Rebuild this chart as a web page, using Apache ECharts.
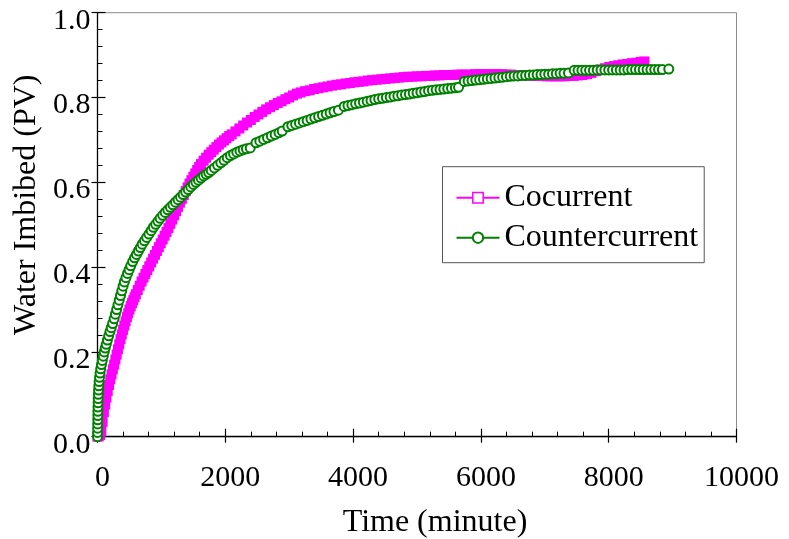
<!DOCTYPE html>
<html>
<head>
<meta charset="utf-8">
<script src="https://cdn.jsdelivr.net/npm/echarts@6/dist/echarts.min.js"></script>
<style>
  html, body { margin: 0; padding: 0; background: #fff; }
  #chart { width: 789px; height: 539px; }
</style>
</head>
<body>
<div id="chart"></div>
<script>
// Imbibition curves: [time (minute), water imbibed (PV)]
const cocurrent = [
  [0,0],[20,0.001],[40,0.004],[60,0.014],[80,0.035],[100,0.058],[120,0.076],[140,0.092],[160,0.108],[180,0.122],
  [200,0.135],[220,0.147],[240,0.159],[260,0.17],[280,0.182],[300,0.194],[320,0.206],[340,0.218],[360,0.23],[380,0.241],
  [400,0.252],[420,0.262],[440,0.272],[460,0.282],[480,0.291],[500,0.3],[520,0.308],[540,0.315],[560,0.322],[580,0.329],
  [600,0.336],[630,0.346],[660,0.356],[690,0.366],[720,0.375],[750,0.384],[780,0.393],[810,0.402],[840,0.411],[870,0.42],
  [900,0.429],[930,0.438],[960,0.447],[990,0.456],[1020,0.465],[1050,0.474],[1080,0.483],[1110,0.492],[1140,0.502],[1170,0.512],
  [1200,0.522],[1230,0.532],[1260,0.542],[1290,0.552],[1320,0.561],[1350,0.57],[1380,0.579],[1410,0.588],[1440,0.597],[1470,0.605],
  [1500,0.613],[1530,0.621],[1560,0.629],[1590,0.636],[1620,0.643],[1660,0.651],[1700,0.658],[1740,0.665],[1780,0.671],[1820,0.677],
  [1860,0.683],[1900,0.689],[1940,0.694],[1980,0.699],[2020,0.704],[2060,0.709],[2100,0.713],[2160,0.72],[2220,0.727],[2280,0.734],
  [2340,0.741],[2400,0.747],[2460,0.754],[2520,0.76],[2580,0.766],[2640,0.772],[2700,0.777],[2760,0.782],[2820,0.787],[2880,0.791],
  [2940,0.796],[3000,0.8],[3060,0.805],[3120,0.809],[3180,0.812],[3250,0.815],[3320,0.817],[3390,0.82],[3460,0.822],[3530,0.824],
  [3600,0.826],[3670,0.828],[3740,0.83],[3810,0.831],[3880,0.833],[3950,0.834],[4020,0.836],[4090,0.837],[4160,0.838],[4230,0.84],
  [4300,0.841],[4370,0.842],[4440,0.843],[4510,0.844],[4580,0.845],[4650,0.846],[4720,0.847],[4790,0.848],[4860,0.849],[4930,0.849],
  [5000,0.85],[5070,0.85],[5140,0.851],[5210,0.851],[5280,0.852],[5350,0.852],[5420,0.853],[5490,0.853],[5560,0.853],[5630,0.854],
  [5700,0.854],[5770,0.854],[5840,0.854],[5910,0.855],[5980,0.855],[6050,0.855],[6120,0.855],[6190,0.855],[6260,0.855],[6330,0.855],
  [6400,0.854],[6470,0.854],[6540,0.853],[6610,0.853],[6680,0.852],[6750,0.852],[6820,0.851],[6890,0.851],[6960,0.851],[7030,0.85],
  [7100,0.85],[7170,0.85],[7240,0.85],[7310,0.85],[7380,0.851],[7450,0.851],[7520,0.852],[7590,0.853],[7660,0.855],[7730,0.858],
  [7800,0.862],[7870,0.866],[7940,0.869],[8010,0.872],[8080,0.874],[8150,0.876],[8220,0.878],[8290,0.879],[8360,0.881],[8430,0.882],
  [8500,0.884],[8560,0.885]
];

const countercurrent = [
  [0,0],[1,0.01],[2,0.02],[3,0.03],[4,0.04],[5,0.05],[6,0.06],[7,0.07],[9,0.08],[11,0.09],
  [13,0.1],[16,0.11],[20,0.12],[25,0.13],[32,0.14],[40,0.15],[50,0.16],[62,0.17],[75,0.18],[90,0.19],
  [105,0.2],[120,0.209],[137,0.218],[155,0.228],[175,0.238],[195,0.248],[215,0.257],[237,0.267],[260,0.278],[280,0.289],
  [300,0.3],[320,0.311],[340,0.322],[360,0.333],[380,0.344],[400,0.355],[420,0.365],[445,0.375],[470,0.385],[495,0.394],
  [520,0.403],[550,0.413],[580,0.422],[610,0.43],[640,0.438],[670,0.446],[700,0.454],[735,0.462],[770,0.47],[805,0.478],
  [840,0.486],[875,0.494],[910,0.501],[945,0.508],[980,0.515],[1020,0.522],[1060,0.529],[1100,0.535],[1140,0.541],[1180,0.547],
  [1220,0.553],[1260,0.559],[1300,0.565],[1340,0.571],[1380,0.577],[1420,0.583],[1460,0.589],[1500,0.595],[1540,0.6],[1580,0.605],
  [1620,0.61],[1660,0.615],[1700,0.619],[1740,0.623],[1780,0.628],[1830,0.634],[1880,0.64],[1930,0.646],[1980,0.652],[2030,0.658],
  [2080,0.663],[2130,0.667],[2180,0.671],[2230,0.674],[2280,0.677],[2330,0.679],[2390,0.681],
  [2480,0.693],[2540,0.697],[2600,0.701],[2660,0.705],[2720,0.709],[2780,0.713],[2840,0.717],[2890,0.721],
  [2980,0.731],[3040,0.734],[3100,0.737],[3160,0.74],[3220,0.743],[3280,0.746],[3340,0.749],[3400,0.752],[3460,0.755],[3520,0.758],
  [3580,0.761],[3640,0.764],[3700,0.767],[3770,0.77],
  [3860,0.779],[3920,0.781],[3980,0.783],[4040,0.785],[4100,0.787],[4160,0.789],[4220,0.791],[4280,0.793],[4340,0.795],[4400,0.797],
  [4460,0.798],[4520,0.8],[4580,0.801],[4640,0.803],[4700,0.804],[4760,0.806],[4820,0.807],[4880,0.808],[4940,0.81],[5000,0.811],
  [5060,0.813],[5120,0.814],[5180,0.816],[5240,0.817],[5300,0.818],[5360,0.819],[5420,0.82],[5480,0.821],[5540,0.822],[5600,0.823],
  [5650,0.824],
  [5740,0.838],[5800,0.839],[5860,0.84],[5920,0.841],[5980,0.842],[6040,0.843],[6100,0.844],[6160,0.845],[6220,0.846],[6280,0.847],
  [6340,0.848],[6400,0.849],[6460,0.85],[6520,0.851],[6580,0.851],[6640,0.852],[6700,0.852],[6760,0.853],[6820,0.853],[6880,0.854],
  [6940,0.854],[7000,0.855],[7060,0.855],[7120,0.856],[7180,0.856],[7240,0.857],[7300,0.857],[7370,0.858],
  [7460,0.864],[7520,0.864],[7580,0.864],[7640,0.864],[7700,0.864],[7760,0.864],[7820,0.865],[7880,0.865],[7940,0.865],[8000,0.865],
  [8060,0.865],[8120,0.865],[8180,0.865],[8240,0.865],[8300,0.866],[8360,0.866],[8420,0.866],[8480,0.866],[8540,0.866],[8600,0.866],
  [8660,0.866],[8720,0.866],[8780,0.866],[8840,0.866],
  [8940,0.867]
];

const timeRange = [0, 10000];
const timeStep = 2000;
const waterRange = [0, 1];
const waterStep = 0.2;

const FONT = 'Liberation Serif';
const BLACK = '#000';

const chart = echarts.init(document.getElementById('chart'), null, { renderer: 'canvas' });

const baseX = {
  type: 'value', position: 'bottom', gridIndex: 0,
  min: timeRange[0], max: timeRange[1], interval: timeStep,
  splitLine: { show: false }
};
const baseY = {
  type: 'value', position: 'left', gridIndex: 0,
  min: waterRange[0], max: waterRange[1], interval: waterStep,
  splitLine: { show: false }
};

chart.setOption({
  animation: false,
  backgroundColor: '#fff',
  grid: {
    left: 97.5, right: 52.5, top: 12.7, bottom: 102.3,
    containLabel: false, outerBoundsMode: 'none',
    show: true, borderColor: '#8c8c8c', borderWidth: 1, backgroundColor: 'transparent'
  },
  legend: {
    orient: 'vertical',
    left: 442.5, top: 166.7,
    padding: [15, 6, 9, 13],
    itemWidth: 43, itemHeight: 13, itemGap: 8,
    borderColor: '#555', borderWidth: 1, backgroundColor: '#fff',
    textStyle: { fontFamily: FONT, fontSize: 32, color: BLACK, lineHeight: 31 },
    data: [
      { name: 'Cocurrent', itemStyle: { color: '#fff', borderColor: '#ff00ff', borderWidth: 1.5 } },
      { name: 'Countercurrent' }
    ]
  },
  xAxis: [
    Object.assign({}, baseX, {
      name: 'Time (minute)', nameLocation: 'middle', nameGap: 70,
      nameTextStyle: { fontFamily: FONT, fontSize: 32, color: BLACK, padding: [0, 0, 0, 36] },
      axisLine: { show: true, onZero: false, lineStyle: { color: BLACK, width: 1.3 } },
      axisTick: { show: true, inside: true, length: 8, lineStyle: { color: BLACK, width: 1.2 } },
      minorTick: { show: true, splitNumber: 5, length: 5, lineStyle: { color: BLACK, width: 1 } },
      axisLabel: { fontFamily: FONT, fontSize: 30, color: BLACK, margin: 26,
                   padding: [0, 0, 0, 10],
                   formatter: v => String(v) }
    }),
    Object.assign({}, baseX, {
      axisLine: { show: false },
      axisTick: { show: true, inside: false, length: 6, lineStyle: { color: BLACK, width: 1.2 } },
      axisLabel: { show: false }
    })
  ],
  yAxis: [
    Object.assign({}, baseY, {
      name: 'Water Imbibed (PV)', nameLocation: 'middle', nameGap: 53,
      nameTextStyle: { fontFamily: FONT, fontSize: 32, color: BLACK, padding: [0, 0, 0, 40] },
      axisLine: { show: true, onZero: false, lineStyle: { color: BLACK, width: 1.3 } },
      axisTick: { show: true, inside: true, length: 8, lineStyle: { color: BLACK, width: 1.2 } },
      minorTick: { show: true, splitNumber: 5, length: 5, lineStyle: { color: BLACK, width: 1 } },
      axisLabel: { fontFamily: FONT, fontSize: 30, color: BLACK, margin: 7,
                   verticalAlign: 'top', lineHeight: 16,
                   formatter: v => v.toFixed(1) }
    }),
    Object.assign({}, baseY, {
      axisLine: { show: false },
      axisTick: { show: true, inside: false, length: 6, lineStyle: { color: BLACK, width: 1.2 } },
      axisLabel: { show: false }
    })
  ],
  series: [
    {
      name: 'Cocurrent', type: 'line', xAxisIndex: 0, yAxisIndex: 0,
      data: cocurrent,
      symbol: 'rect', symbolSize: 10,
      itemStyle: { color: '#ff00ff' },
      lineStyle: { color: '#ff00ff', width: 1.5 },
      z: 2
    },
    {
      name: 'Countercurrent', type: 'line', xAxisIndex: 0, yAxisIndex: 0,
      data: countercurrent,
      symbol: 'emptyCircle', symbolSize: 9,
      itemStyle: { color: '#008000', borderWidth: 1.2 },
      lineStyle: { color: '#008000', width: 1.5 },
      z: 3
    }
  ]
});
</script>
</body>
</html>
